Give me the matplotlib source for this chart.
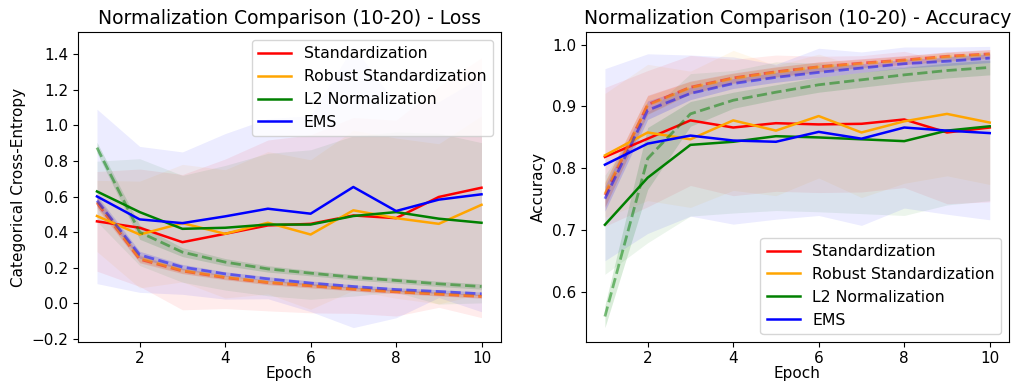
import numpy as np
import matplotlib
matplotlib.use("Agg")
import matplotlib.pyplot as plt

epochs = np.arange(1, 11)
methods = ["Standardization", "Robust Standardization", "L2 Normalization", "EMS"]
colors = ["red", "orange", "green", "blue"]

# loss, validation (solid) mean / std
loss_val = {
    "Standardization": [0.461, 0.425, 0.344, 0.391, 0.438, 0.447, 0.494, 0.479, 0.598, 0.650],
    "Robust Standardization": [0.491, 0.387, 0.451, 0.391, 0.453, 0.387, 0.523, 0.479, 0.447, 0.554],
    "L2 Normalization": [0.629, 0.513, 0.419, 0.425, 0.443, 0.443, 0.491, 0.513, 0.476, 0.453],
    "EMS": [0.601, 0.472, 0.451, 0.489, 0.532, 0.504, 0.654, 0.519, 0.583, 0.613],
}
loss_val_std = {
    "Standardization": [0.28, 0.33, 0.38, 0.42, 0.48, 0.50, 0.55, 0.55, 0.62, 0.73],
    "Robust Standardization": [0.20, 0.30, 0.33, 0.36, 0.40, 0.42, 0.45, 0.45, 0.45, 0.50],
    "L2 Normalization": [0.17, 0.30, 0.30, 0.35, 0.40, 0.42, 0.45, 0.45, 0.48, 0.45],
    "EMS": [0.49, 0.41, 0.40, 0.465, 0.506, 0.55, 0.79, 0.60, 0.55, 0.66],
}
# loss, training (dashed) mean / std
loss_train = {
    "Standardization": [0.565, 0.248, 0.182, 0.145, 0.117, 0.099, 0.080, 0.065, 0.052, 0.039],
    "Robust Standardization": [0.570, 0.254, 0.185, 0.148, 0.119, 0.101, 0.082, 0.067, 0.054, 0.041],
    "L2 Normalization": [0.875, 0.400, 0.288, 0.232, 0.194, 0.170, 0.147, 0.129, 0.110, 0.095],
    "EMS": [0.577, 0.273, 0.204, 0.166, 0.138, 0.114, 0.095, 0.078, 0.067, 0.054],
}
loss_train_std = {
    "Standardization": [0.03, 0.02, 0.015, 0.012, 0.012, 0.012, 0.01, 0.01, 0.01, 0.01],
    "Robust Standardization": [0.03, 0.02, 0.015, 0.012, 0.012, 0.012, 0.01, 0.01, 0.01, 0.01],
    "L2 Normalization": [0.03, 0.04, 0.025, 0.02, 0.018, 0.015, 0.015, 0.015, 0.015, 0.015],
    "EMS": [0.03, 0.02, 0.015, 0.012, 0.012, 0.012, 0.01, 0.01, 0.01, 0.01],
}

# accuracy, validation (solid)
acc_val = {
    "Standardization": [0.8185, 0.848, 0.8775, 0.866, 0.873, 0.871, 0.872, 0.879, 0.858, 0.866],
    "Robust Standardization": [0.821, 0.858, 0.847, 0.8775, 0.861, 0.8845, 0.858, 0.876, 0.888, 0.874],
    "L2 Normalization": [0.709, 0.785, 0.838, 0.843, 0.852, 0.850, 0.847, 0.844, 0.861, 0.868],
    "EMS": [0.806, 0.840, 0.853, 0.845, 0.843, 0.859, 0.848, 0.866, 0.861, 0.857],
}
acc_val_std = {
    "Standardization": [0.112, 0.11, 0.105, 0.11, 0.11, 0.11, 0.11, 0.11, 0.115, 0.12],
    "Robust Standardization": [0.10, 0.11, 0.11, 0.113, 0.105, 0.10, 0.105, 0.10, 0.10, 0.10],
    "L2 Normalization": [0.08, 0.105, 0.115, 0.115, 0.12, 0.12, 0.12, 0.12, 0.12, 0.12],
    "EMS": [0.155, 0.145, 0.13, 0.135, 0.125, 0.135, 0.14, 0.13, 0.135, 0.14],
}
# accuracy, training (dashed)
acc_train = {
    "Standardization": [0.757, 0.903, 0.931, 0.946, 0.956, 0.964, 0.970, 0.975, 0.981, 0.985],
    "Robust Standardization": [0.759, 0.902, 0.930, 0.945, 0.955, 0.9635, 0.969, 0.974, 0.980, 0.984],
    "L2 Normalization": [0.561, 0.816, 0.888, 0.910, 0.923, 0.935, 0.943, 0.951, 0.958, 0.963],
    "EMS": [0.751, 0.894, 0.921, 0.937, 0.947, 0.955, 0.962, 0.969, 0.973, 0.978],
}
acc_train_std = {
    "Standardization": [0.02, 0.015, 0.01, 0.008, 0.008, 0.008, 0.007, 0.007, 0.007, 0.007],
    "Robust Standardization": [0.02, 0.015, 0.01, 0.008, 0.008, 0.008, 0.007, 0.007, 0.007, 0.007],
    "L2 Normalization": [0.018, 0.05, 0.02, 0.013, 0.012, 0.012, 0.012, 0.012, 0.012, 0.012],
    "EMS": [0.02, 0.015, 0.01, 0.008, 0.008, 0.008, 0.007, 0.007, 0.007, 0.007],
}

plt.rcParams['font.size'] = 11

fig = plt.figure(figsize=(10.11, 3.85), dpi=100)
ax1 = fig.add_axes([0.0769, 0.1125, 0.4184, 0.8036])
ax2 = fig.add_axes([0.5793, 0.1125, 0.4187, 0.8036])


def draw(ax, val, val_std, train, train_std):
    for m, c in zip(methods, colors):
        tm = np.array(train[m])
        ts = np.array(train_std[m])
        vm = np.array(val[m])
        vs = np.array(val_std[m])
        ax.plot(epochs, tm, '--', color=c, lw=2, alpha=0.5)
        ax.fill_between(epochs, tm - ts, tm + ts, color=c, alpha=0.15, lw=0)
        ax.plot(epochs, vm, '-', color=c, lw=1.8, label=m)
        ax.fill_between(epochs, vm - vs, vm + vs, color=c, alpha=0.075, lw=0)
    ax.set_xlabel('Epoch', labelpad=0)


draw(ax1, loss_val, loss_val_std, loss_train, loss_train_std)
ax1.set_ylabel('Categorical Cross-Entropy')
ax1.set_title('Normalization Comparison (10-20) - Loss', fontsize=13.5)
ax1.legend(loc='upper right', fontsize=11.3, handlelength=2.1)

draw(ax2, acc_val, acc_val_std, acc_train, acc_train_std)
ax2.set_ylabel('Accuracy')
ax2.set_title('Normalization Comparison (10-20) - Accuracy', fontsize=13.5)
ax2.legend(loc='lower right', fontsize=11.3, handlelength=2.1)

fig.savefig('out.png', dpi=100)
